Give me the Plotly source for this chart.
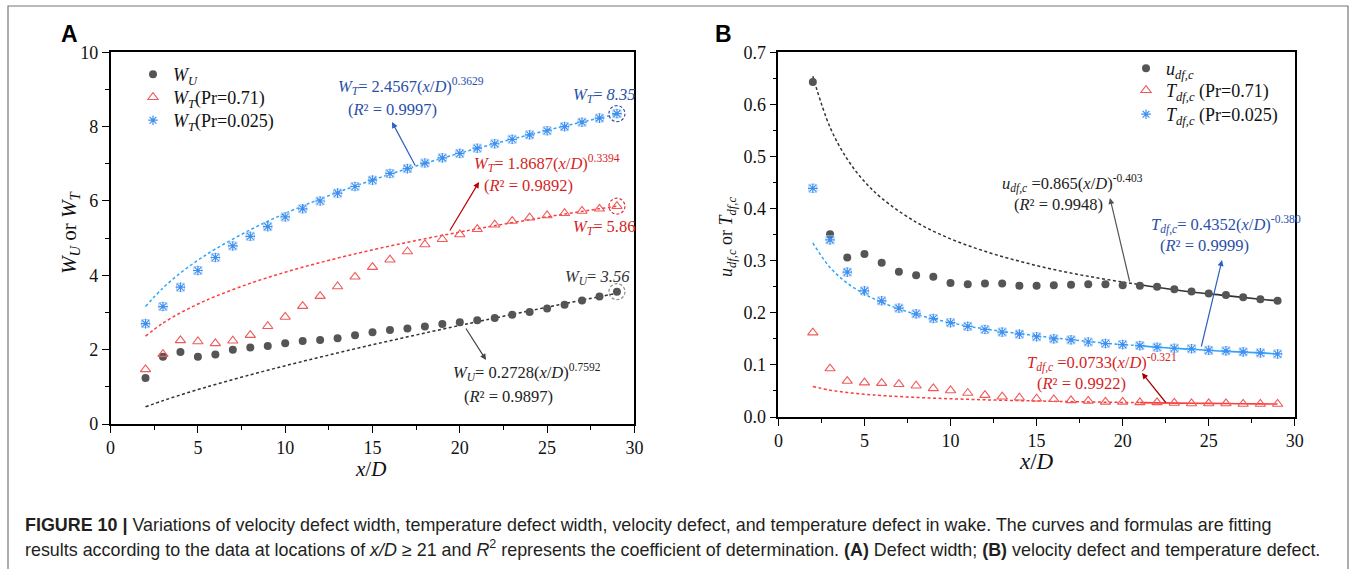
import plotly.graph_objects as go

W, H = 1354, 569

# ---------------- data ----------------
x_pts = list(range(2, 30))

# Panel A: defect widths
wu = [1.24, 1.81, 1.94, 1.81, 1.87, 2.00, 2.06, 2.10, 2.17, 2.23, 2.26, 2.31, 2.39, 2.47,
      2.53, 2.57, 2.62, 2.69, 2.74, 2.79, 2.85, 2.94, 3.01, 3.11, 3.21, 3.32, 3.43, 3.56]
wt_071 = [1.47, 1.88, 2.25, 2.22, 2.17, 2.24, 2.39, 2.63, 2.88, 3.17, 3.44, 3.70, 3.96, 4.22,
          4.42, 4.64, 4.83, 4.97, 5.10, 5.24, 5.36, 5.46, 5.55, 5.61, 5.67, 5.73, 5.79, 5.86]
wt_0025 = [2.70, 3.16, 3.68, 4.13, 4.48, 4.79, 5.05, 5.31, 5.57, 5.79, 6.00, 6.21, 6.39, 6.56,
           6.74, 6.87, 7.02, 7.16, 7.28, 7.42, 7.54, 7.66, 7.78, 7.89, 8.00, 8.12, 8.23, 8.35]

fit_x = [2, 3, 4, 5, 6, 8, 10, 12, 14, 16, 18, 20, 21, 22, 24, 26, 28, 29]
fit_wu = [0.462, 0.628, 0.782, 0.926, 1.063, 1.323, 1.567, 1.799, 2.023, 2.239, 2.448, 2.652,
          2.752, 2.851, 3.046, 3.237, 3.424, 3.517]
fit_wt_071 = [2.364, 2.713, 2.991, 3.227, 3.433, 3.785, 4.083, 4.343, 4.577, 4.789, 4.984, 5.166,
              5.252, 5.335, 5.496, 5.647, 5.791, 5.860]
fit_wt_0025 = [3.159, 3.660, 4.063, 4.406, 4.707, 5.225, 5.666, 6.053, 6.401, 6.720, 7.013, 7.287,
               7.416, 7.542, 7.785, 8.014, 8.233, 8.338]

# Panel B: centre-line defects
udf = [0.643, 0.351, 0.306, 0.313, 0.296, 0.279, 0.272, 0.269, 0.257, 0.255, 0.256, 0.256, 0.252, 0.252,
       0.253, 0.254, 0.255, 0.255, 0.253, 0.252, 0.250, 0.245, 0.241, 0.237, 0.234, 0.230, 0.226, 0.223]
tdf_071 = [0.162, 0.093, 0.069, 0.066, 0.065, 0.063, 0.060, 0.055, 0.051, 0.046, 0.042, 0.039, 0.037, 0.035,
           0.034, 0.032, 0.031, 0.029, 0.029, 0.028, 0.028, 0.027, 0.026, 0.026, 0.026, 0.025, 0.025, 0.025]
tdf_0025 = [0.439, 0.340, 0.278, 0.242, 0.223, 0.209, 0.198, 0.189, 0.181, 0.174, 0.168, 0.163, 0.159, 0.154,
            0.150, 0.148, 0.144, 0.141, 0.139, 0.137, 0.134, 0.132, 0.131, 0.128, 0.127, 0.125, 0.123, 0.121]

fit_udf = [0.654, 0.556, 0.495, 0.452, 0.420, 0.374, 0.342, 0.318, 0.299, 0.283, 0.270, 0.259,
           0.254, 0.249, 0.240, 0.233, 0.226, 0.223]
fit_tdf_0025 = [0.334, 0.287, 0.257, 0.236, 0.220, 0.197, 0.181, 0.169, 0.160, 0.152, 0.145, 0.139,
                0.137, 0.134, 0.130, 0.126, 0.123, 0.121]
fit_tdf_071 = [0.0587, 0.0515, 0.0470, 0.0437, 0.0412, 0.0376, 0.0350, 0.0330, 0.0314, 0.0301, 0.0290,
               0.0280, 0.0276, 0.0272, 0.0264, 0.0258, 0.0251, 0.0249]
split = fit_x.index(21)

# ---------------- styles ----------------
SERIF = "Liberation Serif"
SANS = "Liberation Sans"
C_DOT = "#555555"
C_TRI = "#f05a5a"
C_STAR = "#3d8ff0"
C_BOX = "#a9cdf5"
C_FIT_K = "#333333"
C_FIT_R = "#ff3b3b"
C_FIT_B = "#2aa6ff"
DASH = "3px,2.5px"


def px(x):
    return x / W


def py(y):
    return 1 - y / H


fig = go.Figure()


def star_traces(xv, yv, name, xa, ya, leg):
    fig.add_trace(go.Scatter(x=xv, y=yv, mode="markers", showlegend=False, hoverinfo="skip",
                             marker=dict(symbol="square-open", size=8, color=C_BOX, line=dict(width=1, color=C_BOX)),
                             xaxis=xa, yaxis=ya))
    fig.add_trace(go.Scatter(x=xv, y=yv, mode="markers", name=name,
                             marker=dict(symbol="asterisk-open", size=8, color=C_STAR,
                                         line=dict(width=1.2, color=C_STAR)),
                             xaxis=xa, yaxis=ya, legend=leg))


# ---- panel A fits ----
for yv, col in [(fit_wu, C_FIT_K), (fit_wt_071, C_FIT_R), (fit_wt_0025, C_FIT_B)]:
    fig.add_trace(go.Scatter(x=fit_x, y=yv, mode="lines", line=dict(color=col, width=1.5, dash=DASH, shape="spline"),
                             showlegend=False, xaxis="x", yaxis="y", hoverinfo="skip"))

# ---- panel A markers ----
fig.add_trace(go.Scatter(x=x_pts, y=wu, mode="markers", name="<i>W</i><sub><i>U</i></sub>",
                         marker=dict(symbol="circle", size=8, color=C_DOT), xaxis="x", yaxis="y", legend="legend"))
fig.add_trace(go.Scatter(x=x_pts, y=wt_071, mode="markers", name="<i>W</i><sub><i>T</i></sub>(Pr=0.71)",
                         marker=dict(symbol="triangle-up-open", size=9, color=C_TRI, line=dict(width=1.1)),
                         xaxis="x", yaxis="y", legend="legend3"))
star_traces(x_pts, wt_0025, "<i>W</i><sub><i>T</i></sub>(Pr=0.025)", "x", "y", "legend4")

# ---- panel B fits (dashed up to x/D=21, solid after) ----
for yv, col in [(fit_udf, C_FIT_K), (fit_tdf_0025, C_FIT_B), (fit_tdf_071, C_FIT_R)]:
    fig.add_trace(go.Scatter(x=fit_x[:split + 1], y=yv[:split + 1], mode="lines",
                             line=dict(color=col, width=1.5, dash=DASH, shape="spline"),
                             showlegend=False, xaxis="x2", yaxis="y2", hoverinfo="skip"))
    fig.add_trace(go.Scatter(x=fit_x[split:], y=yv[split:], mode="lines",
                             line=dict(color=col, width=1.6, shape="spline"),
                             showlegend=False, xaxis="x2", yaxis="y2", hoverinfo="skip"))

# ---- panel B markers ----
fig.add_trace(go.Scatter(x=x_pts, y=udf, mode="markers", name="<i>u</i><sub><i>df,c</i></sub>",
                         marker=dict(symbol="circle", size=8, color=C_DOT), xaxis="x2", yaxis="y2", legend="legend2"))
fig.add_trace(go.Scatter(x=x_pts, y=tdf_071, mode="markers", name="<i>T</i><sub><i>df,c</i></sub> (Pr=0.71)",
                         marker=dict(symbol="triangle-up-open", size=9, color=C_TRI, line=dict(width=1.1)),
                         xaxis="x2", yaxis="y2", legend="legend5"))
star_traces(x_pts, tdf_0025, "<i>T</i><sub><i>df,c</i></sub> (Pr=0.025)", "x2", "y2", "legend6")

axis_common = dict(showline=True, linecolor="black", linewidth=1.5, mirror=True, ticks="outside", ticklen=7,
                   tickwidth=1.3, tickcolor="black", showgrid=False, zeroline=False, automargin=False,
                   tickfont=dict(family=SERIF, size=18, color="#111"))


def leg(x, ytop):
    return dict(x=px(x), y=py(ytop), xanchor="left", yanchor="top", bgcolor="rgba(0,0,0,0)",
                font=dict(family=SERIF, size=18, color="#111"), tracegroupgap=0, itemwidth=30)


fig.update_layout(
    width=W, height=H, autosize=False, margin=dict(l=0, r=0, t=0, b=0, pad=0),
    paper_bgcolor="white", plot_bgcolor="white",
    xaxis=dict(domain=[px(110.6), px(634.4)], range=[0, 30], dtick=5, anchor="y",
               minor=dict(dtick=2.5, ticks="outside", ticklen=4, tickcolor="black"), **axis_common),
    yaxis=dict(domain=[py(424), py(52.3)], range=[0, 10], dtick=2, anchor="x",
               minor=dict(dtick=1, ticks="outside", ticklen=4, tickcolor="black"), **axis_common),
    xaxis2=dict(domain=[px(778.4), px(1294.8)], range=[0, 30], dtick=5, anchor="y2",
                minor=dict(dtick=2.5, ticks="outside", ticklen=4, tickcolor="black"), **axis_common),
    yaxis2=dict(domain=[py(417), py(52.3)], range=[0, 0.7], dtick=0.1, tickformat=".1f", anchor="x2",
                minor=dict(dtick=0.05, ticks="outside", ticklen=4, tickcolor="black"), **axis_common),
    legend=leg(133, 56), legend3=leg(133, 79), legend4=leg(133, 102),
    legend2=leg(1126, 50), legend5=leg(1126, 72), legend6=leg(1126, 96),
)

ann = []


def text(x, y, t, color, size=16.5, anchor="left", family=SERIF, angle=0):
    ann.append(dict(x=px(x), y=py(y), xref="paper", yref="paper", text=t, showarrow=False,
                    xanchor=anchor, yanchor="middle", textangle=angle,
                    font=dict(family=family, size=size, color=color)))


def arrow(x0, y0, x1, y1, color):
    ann.append(dict(x=px(x1), y=py(y1), xref="paper", yref="paper", ax=x0 - x1, ay=y0 - y1,
                    axref="pixel", ayref="pixel", text="", showarrow=True, arrowhead=2, arrowsize=1,
                    arrowwidth=1.2, arrowcolor=color))


BLUE_T = "#2b4fa8"
RED_T = "#d41f1f"
BLACK_T = "#222222"

# Panel labels
text(69, 34, "<b>A</b>", "black", size=23, anchor="center", family=SANS)
text(723, 34, "<b>B</b>", "black", size=23, anchor="center", family=SANS)

# Axis titles
text(370, 469, "<i>x</i>/<i>D</i>", "#111", size=21, anchor="center")
text(70, 232, "<i>W</i><sub><i>U</i></sub> or <i>W</i><sub><i>T</i></sub>", "#111", size=21, anchor="center", angle=-90)
text(1036, 461, "<i>x</i>/<i>D</i>", "#111", size=23, anchor="center")
text(727, 237, "<i>u</i><sub><i>df,c</i></sub> or <i>T</i><sub><i>df,c</i></sub>", "#111", size=18, anchor="center", angle=-90)

# Panel A fit formulas
text(336, 86, "<i>W</i><sub><i>T</i></sub>= 2.4567(<i>x</i>/<i>D</i>)<sup>0.3629</sup>", BLUE_T)
text(346, 109, "(<i>R</i>² = 0.9997)", BLUE_T)
arrow(416, 167, 392, 122, "#2f5fc0")
text(472, 163, "<i>W</i><sub><i>T</i></sub>= 1.8687(<i>x</i>/<i>D</i>)<sup>0.3394</sup>", RED_T)
text(482, 186, "(<i>R</i>² = 0.9892)", RED_T)
arrow(449, 232, 479, 182, "#c00000")
text(451, 372, "<i>W</i><sub><i>U</i></sub>= 0.2728(<i>x</i>/<i>D</i>)<sup>0.7592</sup>", BLACK_T)
text(462, 396, "(<i>R</i>² = 0.9897)", BLACK_T)
arrow(465, 327, 486, 360, "#444444")

text(571, 95, "<i>W</i><sub><i>T</i></sub>= <i>8.35</i>", BLUE_T)
text(571, 227, "<i>W</i><sub><i>T</i></sub>= 5.86", RED_T)
text(563, 277, "<i>W</i><sub><i>U</i></sub>= <i>3.56</i>", "#333333")

# Panel B fit formulas
text(1000, 183, "<i>u</i><sub><i>df,c</i></sub> =0.865(<i>x</i>/<i>D</i>)<sup>-0.403</sup>", BLACK_T)
text(1012, 205, "(<i>R</i>² = 0.9948)", BLACK_T)
arrow(1130, 283, 1110, 198, "#555555")
text(1149, 224, "<i>T</i><sub><i>df,c</i></sub>= 0.4352(<i>x</i>/<i>D</i>)<sup>-0.380</sup>", BLUE_T)
text(1158, 245, "(<i>R</i>² = 0.9999)", BLUE_T)
arrow(1201, 348, 1222, 260, "#2f5fc0")
text(1025, 362, "<i>T</i><sub><i>df,c</i></sub> =0.0733(<i>x</i>/<i>D</i>)<sup>-0.321</sup>", RED_T)
text(1035, 383, "(<i>R</i>² = 0.9922)", RED_T)
arrow(1167, 404, 1142, 373, "#a00000")

# Caption
cap1 = ("<b>FIGURE 10 |</b> Variations of velocity defect width, temperature defect width, velocity defect, "
        "and temperature defect in wake. The curves and formulas are fitting")
cap2 = ("results according to the data at locations of <i>x/D</i> ≥ 21 and <i>R</i><sup>2</sup> represents the "
        "coefficient of determination. <b>(A)</b> Defect width; <b>(B)</b> velocity defect and temperature defect.")
text(23, 525, cap1, "#231f20", size=17.9, family=SANS)
text(23, 548, cap2, "#231f20", size=17.9, family=SANS)

fig.update_layout(annotations=ann)

# Shapes: outer frame and dashed circles around the last points of panel A
shapes = [dict(type="rect", xref="paper", yref="paper", x0=px(8), x1=px(1348), y0=py(585), y1=py(6),
               line=dict(color="#777777", width=1.2), fillcolor="rgba(0,0,0,0)")]
for yv, col in [(wt_0025, "#2b4fa8"), (wt_071, "#e03030"), (wu, "#888888")]:
    shapes.append(dict(type="circle", xref="x", yref="y", xsizemode="pixel", ysizemode="pixel",
                       xanchor=x_pts[-1], yanchor=yv[-1], x0=-8, x1=8, y0=-8, y1=8,
                       line=dict(color=col, width=1.2, dash="3px,2px")))
fig.update_layout(shapes=shapes)

fig.write_html("out.html", config={"displayModeBar": False},
               post_script="document.body.style.margin='0';document.body.style.overflow='hidden';")
